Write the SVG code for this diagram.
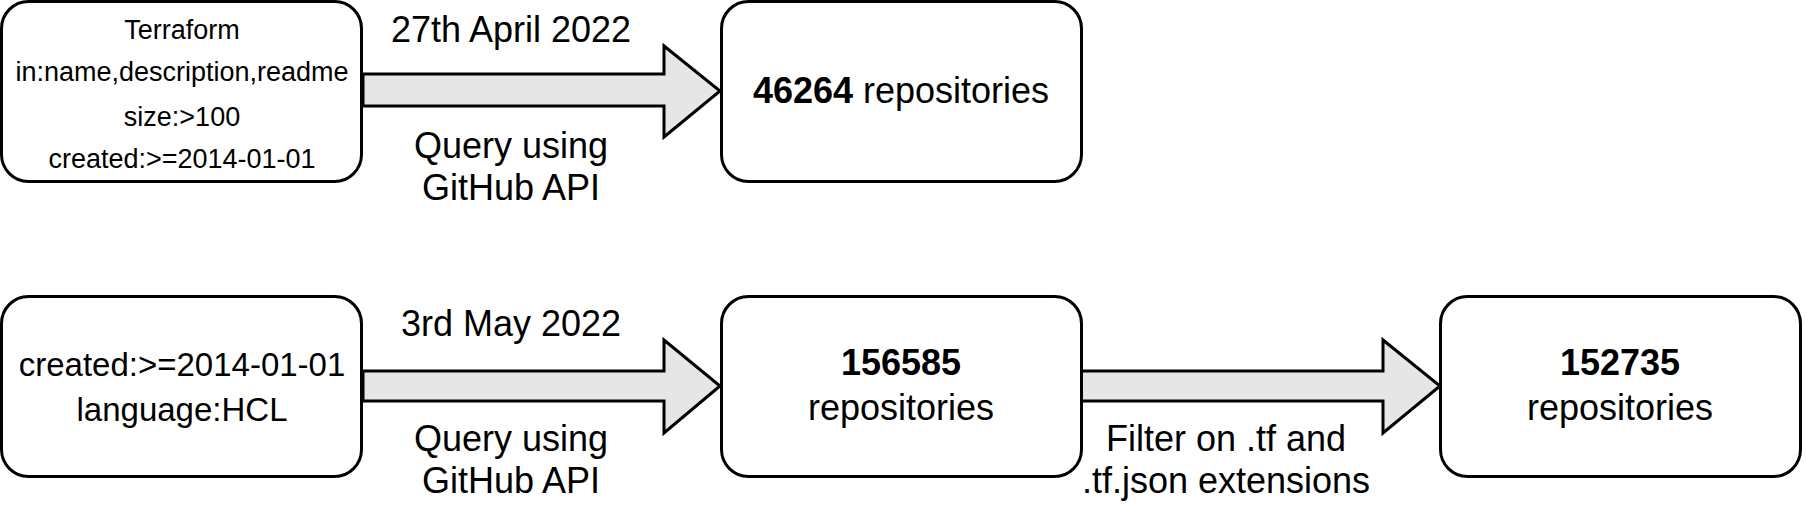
<svg xmlns="http://www.w3.org/2000/svg" width="1806" height="510" viewBox="0 0 1806 510">
<style>
.box{fill:#ffffff;stroke:#000000;stroke-width:3}
.arrow{fill:#e6e6e6;stroke:#000000;stroke-width:3;stroke-linejoin:miter}
text{font-family:"Liberation Sans",Arial,sans-serif;fill:#000000;text-anchor:middle}
.t36{font-size:36px}
.t33{font-size:33px}
.t27{font-size:27px}
.b{font-weight:bold}
</style>
<rect width="1806" height="510" fill="#ffffff"/>
<g id="connectors">
<polygon class="arrow" points="363,74 664,74 664,46 720,91 664,137 664,106 363,106"/>
<polygon class="arrow" points="363,371 664,371 664,340 720,386 664,433 664,401 363,401"/>
<polygon class="arrow" points="1081,371 1383,371 1383,340 1440,386 1383,433 1383,401 1081,401"/>
<text class="t36" x="511" y="42">27th April 2022</text>
<text class="t36" x="511" y="158">Query using</text>
<text class="t36" x="511" y="200">GitHub API</text>
<text class="t36" x="511" y="336">3rd May 2022</text>
<text class="t36" x="511" y="451">Query using</text>
<text class="t36" x="511" y="493">GitHub API</text>
<text class="t36" x="1226" y="451">Filter on .tf and</text>
<text class="t36" x="1226" y="493">.tf.json extensions</text>
</g>
<g id="query1">
<rect class="box" x="1.5" y="1.5" width="360" height="180" rx="27" ry="27"/>
<text class="t27" x="182" y="39">Terraform</text>
<text class="t27" x="182" y="81">in:name,description,readme</text>
<text class="t27" x="182" y="126">size:&gt;100</text>
<text class="t27" x="182" y="168">created:&gt;=2014-01-01</text>
</g>
<g id="result1">
<rect class="box" x="721.5" y="1.5" width="360" height="180" rx="27" ry="27"/>
<text class="t36" x="901" y="103"><tspan class="b">46264</tspan> repositories</text>
</g>
<g id="query2">
<rect class="box" x="1.5" y="296.5" width="360" height="180" rx="27" ry="27"/>
<text class="t33" x="182" y="376">created:&gt;=2014-01-01</text>
<text class="t33" x="182" y="421">language:HCL</text>
</g>
<g id="result2">
<rect class="box" x="721.5" y="296.5" width="360" height="180" rx="27" ry="27"/>
<text class="t36 b" x="901" y="375">156585</text>
<text class="t36" x="901" y="420">repositories</text>
</g>
<g id="result3">
<rect class="box" x="1440.5" y="296.5" width="360" height="180" rx="27" ry="27"/>
<text class="t36 b" x="1620" y="375">152735</text>
<text class="t36" x="1620" y="420">repositories</text>
</g>
</svg>
